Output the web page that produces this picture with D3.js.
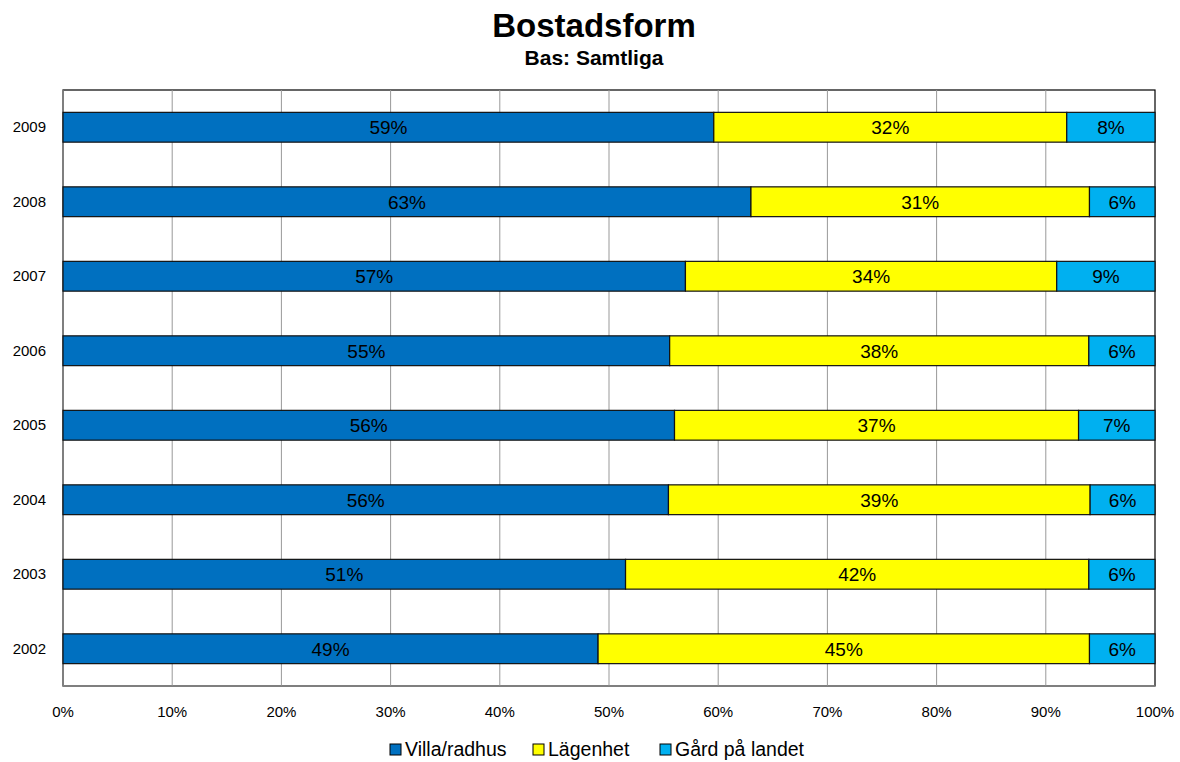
<!DOCTYPE html>
<html>
<head>
<meta charset="utf-8">
<script src="https://cdn.jsdelivr.net/npm/d3@7"></script>
<style>
  body { margin: 0; background: #fff; }
  text { font-family: "Liberation Sans", Arial, sans-serif; }
</style>
</head>
<body>
<div class="chart"></div>
<script>
// survey answers in percent (the chart normalises each row to 100%)
var years = ['2009', '2008', '2007', '2006', '2005', '2004', '2003', '2002'];
var villa = [59, 63, 57, 55, 56, 56, 51, 49];
var lagenhet = [32, 31, 34, 38, 37, 39, 42, 45];
var gard = [8, 6, 9, 6, 7, 6, 6, 6];
var seriesNames = ['Villa/radhus', 'Lägenhet', 'Gård på landet'];
var ticks = [0, 0.1, 0.2, 0.3, 0.4, 0.5, 0.6, 0.7, 0.8, 0.9, 1];

var colors = ['#0070C0', '#FFFF00', '#00B0F0'];
var W = 1180, H = 762;
var m = {left: 63, right: 1155, top: 90, bottom: 686};

var rows = years.map(function(y, i) {
    return {year: y, v0: villa[i], v1: lagenhet[i], v2: gard[i]};
});
var stack = d3.stack().keys(['v0', 'v1', 'v2']).offset(d3.stackOffsetExpand);
var layers = stack(rows);

var svg = d3.select('.chart').append('svg')
    .attr('width', W).attr('height', H);

var x = d3.scaleLinear().domain([0, 1]).range([m.left, m.right]);
var y = d3.scaleBand().domain(years).range([m.top, m.bottom]).paddingInner(0.6).paddingOuter(0.3);

// titles
svg.append('text').attr('x', 594).attr('y', 37).attr('text-anchor', 'middle')
    .attr('font-size', 33).attr('font-weight', 'bold').text('Bostadsform');
svg.append('text').attr('x', 594).attr('y', 65).attr('text-anchor', 'middle')
    .attr('font-size', 21).attr('font-weight', 'bold').text('Bas: Samtliga');

// plot frame
svg.append('rect').attr('x', m.left).attr('y', m.top)
    .attr('width', m.right - m.left).attr('height', m.bottom - m.top)
    .attr('fill', 'none').attr('stroke', '#000').attr('stroke-width', 1.2);

// vertical grid
svg.append('g').selectAll('line').data(ticks.slice(1, -1)).enter().append('line')
    .attr('x1', function(d) { return x(d); }).attr('x2', function(d) { return x(d); })
    .attr('y1', m.top).attr('y2', m.bottom)
    .attr('stroke', '#999').attr('stroke-width', 1);

// axes lines (gray)
svg.append('line').attr('x1', m.left).attr('x2', m.left).attr('y1', m.top).attr('y2', m.bottom)
    .attr('stroke', '#888').attr('stroke-width', 1.5);
svg.append('line').attr('x1', m.left).attr('x2', m.right).attr('y1', m.bottom).attr('y2', m.bottom)
    .attr('stroke', '#888').attr('stroke-width', 1.5);

// bars
var layer = svg.append('g').selectAll('g').data(layers).enter().append('g')
    .attr('fill', function(d, i) { return colors[i]; });

layer.selectAll('rect').data(function(d) { return d; }).enter().append('rect')
    .attr('x', function(d) { return x(d[0]); })
    .attr('y', function(d) { return y(d.data.year); })
    .attr('width', function(d) { return x(d[1]) - x(d[0]); })
    .attr('height', y.bandwidth())
    .attr('stroke', '#111').attr('stroke-width', 1.2);

layer.selectAll('text').data(function(d) {
        var key = d.key;
        return d.map(function(p) { return {p: p, v: p.data[key]}; });
    }).enter().append('text')
    .attr('x', function(d) { return (x(d.p[0]) + x(d.p[1])) / 2; })
    .attr('y', function(d) { return y(d.p.data.year) + y.bandwidth() / 2 + 7; })
    .attr('text-anchor', 'middle').attr('font-size', 19).attr('fill', '#000')
    .text(function(d) { return d.v + '%'; });

// y labels
svg.append('g').selectAll('text').data(years).enter().append('text')
    .attr('x', 46).attr('y', function(d) { return y(d) + y.bandwidth() / 2 + 5; })
    .attr('text-anchor', 'end').attr('font-size', 15).text(function(d) { return d; });

// x tick labels
svg.append('g').selectAll('text').data(ticks).enter().append('text')
    .attr('x', function(d) { return x(d); }).attr('y', 717)
    .attr('text-anchor', 'middle').attr('font-size', 15)
    .text(d3.format('.0%'));

// legend
var legX = [390, 533, 660];
var leg = svg.append('g').selectAll('g').data(seriesNames).enter().append('g')
    .attr('transform', function(d, i) { return 'translate(' + legX[i] + ',744)'; });
leg.append('rect').attr('width', 11).attr('height', 11)
    .attr('fill', function(d, i) { return colors[i]; })
    .attr('stroke', '#000').attr('stroke-width', 1);
leg.append('text').attr('x', 15).attr('y', 12).attr('font-size', 19.5)
    .text(function(d) { return d; });
</script>
</body>
</html>
